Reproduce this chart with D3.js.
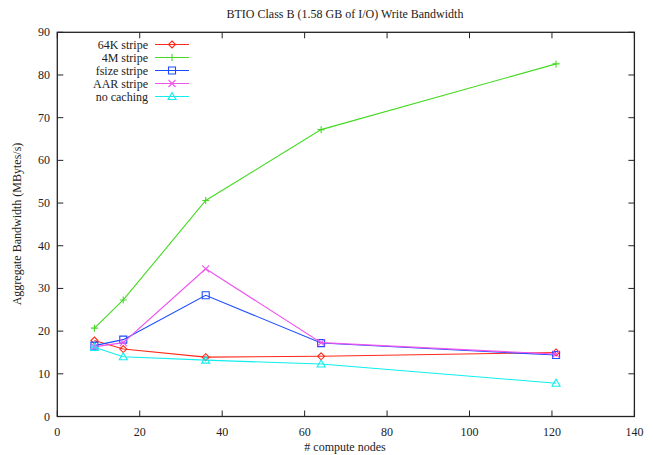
<!DOCTYPE html>
<html>
<head>
<meta charset="utf-8">
<script src="https://cdn.jsdelivr.net/npm/d3@7"></script>
<style>
  body { margin: 0; background: #fff; }
</style>
</head>
<body>
<svg id="chart" width="653" height="455"></svg>
<script>
// compute nodes on the x axis
const nodes = [9, 16, 36, 64, 121];
const stripe64K = [17.8, 15.8, 13.9, 14.1, 15.0];
const stripe4M = [20.7, 27.3, 50.6, 67.2, 82.6];
const fsizeStripe = [16.6, 18.0, 28.4, 17.2, 14.4];
const aarStripe = [16.3, 17.3, 34.6, 17.3, 14.6];
const noCaching = [16.2, 14.0, 13.2, 12.3, 7.8];

const seriesNames = ["64K stripe", "4M stripe", "fsize stripe", "AAR stripe", "no caching"];
const xTicks = [0, 20, 40, 60, 80, 100, 120, 140];
const yTicks = [0, 10, 20, 30, 40, 50, 60, 70, 80, 90];

const series = [
  { name: seriesNames[0], values: stripe64K, color: "#ff2a1a", marker: "diamond" },
  { name: seriesNames[1], values: stripe4M, color: "#44d922", marker: "plus" },
  { name: seriesNames[2], values: fsizeStripe, color: "#1a4cff", marker: "square" },
  { name: seriesNames[3], values: aarStripe, color: "#ee55ee", marker: "cross" },
  { name: seriesNames[4], values: noCaching, color: "#11eeee", marker: "triangle" }
];

const svg = d3.select("#chart")
  .attr("font-family", "'Liberation Serif', 'Times New Roman', Times, 'DejaVu Serif', serif")
  .attr("font-size", 12);
const plotL = 57.3, plotR = 634.4, plotT = 32.3, plotB = 416.5;

const x = d3.scaleLinear().domain([0, 140]).range([plotL, plotR]);
const y = d3.scaleLinear().domain([0, 90]).range([plotB, plotT]);

// frame
svg.append("rect").attr("x", plotL).attr("y", plotT).attr("width", plotR - plotL).attr("height", plotB - plotT)
  .attr("fill", "none").attr("stroke", "#222").attr("stroke-width", 1.3);

// ticks on all four sides, gnuplot style (pointing inward)
const tickLen = 6;
const axisG = svg.append("g").attr("fill", "#222");
xTicks.forEach(t => {
  axisG.append("line").attr("x1", x(t)).attr("x2", x(t)).attr("y1", plotB).attr("y2", plotB - tickLen).attr("stroke", "#222");
  axisG.append("line").attr("x1", x(t)).attr("x2", x(t)).attr("y1", plotT).attr("y2", plotT + tickLen).attr("stroke", "#222");
  axisG.append("text").attr("x", x(t)).attr("y", 436).attr("text-anchor", "middle").text(t);
});
yTicks.forEach(t => {
  axisG.append("line").attr("x1", plotL).attr("x2", plotL + tickLen).attr("y1", y(t)).attr("y2", y(t)).attr("stroke", "#222");
  axisG.append("line").attr("x1", plotR).attr("x2", plotR - tickLen).attr("y1", y(t)).attr("y2", y(t)).attr("stroke", "#222");
  axisG.append("text").attr("x", 50).attr("y", y(t) + 4).attr("text-anchor", "end").text(t);
});

svg.append("text").attr("x", 345).attr("y", 18).attr("text-anchor", "middle").attr("fill", "#222").text("BTIO Class B (1.58 GB of I/O) Write Bandwidth");
svg.append("text").attr("x", 345).attr("y", 451).attr("text-anchor", "middle").attr("fill", "#222").text("# compute nodes");
svg.append("text").attr("transform", "translate(21,224) rotate(-90)").attr("text-anchor", "middle").attr("fill", "#222").text("Aggregate Bandwidth (MBytes/s)");

function drawMarker(g, kind, cx, cy, color) {
  const s = 3.5;
  let d;
  if (kind === "diamond") d = `M${cx},${cy - s}L${cx + s},${cy}L${cx},${cy + s}L${cx - s},${cy}Z`;
  else if (kind === "plus") d = `M${cx - s},${cy}H${cx + s}M${cx},${cy - s}V${cy + s}`;
  else if (kind === "square") d = `M${cx - s},${cy - s}H${cx + s}V${cy + s}H${cx - s}Z`;
  else if (kind === "cross") d = `M${cx - s},${cy - s}L${cx + s},${cy + s}M${cx + s},${cy - s}L${cx - s},${cy + s}`;
  else d = `M${cx},${cy - s - 0.5}L${cx + s + 0.5},${cy + s - 0.5}H${cx - s - 0.5}Z`;
  g.append("path").attr("d", d).attr("fill", "none").attr("stroke", color).attr("stroke-width", 1.1);
}

const line = d3.line().x((d, i) => x(nodes[i])).y(d => y(d));
const plotG = svg.append("g");
series.forEach(s => {
  plotG.append("path").datum(s.values).attr("d", line).attr("fill", "none").attr("stroke", s.color).attr("stroke-width", 1.1);
  s.values.forEach((v, i) => drawMarker(plotG, s.marker, x(nodes[i]), y(v), s.color));
});

// legend
const legendG = svg.append("g").attr("fill", "#222");
series.forEach((s, i) => {
  const ly = 44.5 + i * 13;
  legendG.append("text").attr("x", 148).attr("y", ly + 4).attr("text-anchor", "end").text(s.name);
  legendG.append("line").attr("x1", 155).attr("x2", 189).attr("y1", ly).attr("y2", ly).attr("stroke", s.color).attr("stroke-width", 1.1);
  drawMarker(legendG, s.marker, 172, ly, s.color);
});
</script>
</body>
</html>
